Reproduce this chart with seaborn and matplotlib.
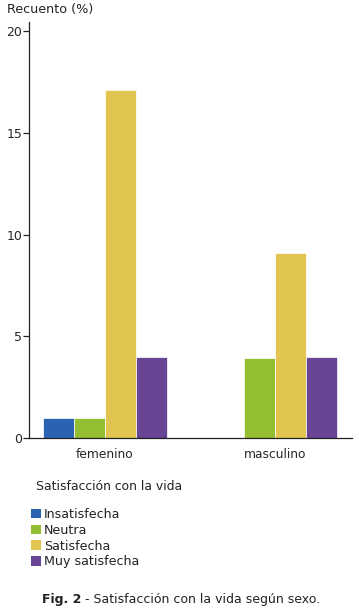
import pandas as pd
import matplotlib
matplotlib.use("Agg")
from matplotlib import pyplot as plt
import seaborn as sns

# Data
sexo = ["femenino", "masculino"]
satisfaccion = ["Insatisfecha", "Neutra", "Satisfecha", "Muy satisfecha"]
femenino = [1.0, 1.0, 17.1, 4.0]
masculino = [0.0, 3.95, 9.1, 4.0]
y_ticks = [0, 5, 10, 15, 20]
COLORS = ["#2a64b0", "#93be32", "#e2c550", "#674494"]

df = pd.DataFrame({
    "sexo": [s for s in sexo for _ in satisfaccion],
    "satisfaccion": satisfaccion * 2,
    "recuento": femenino + masculino,
})

sns.set_style("white")
plt.rcParams["font.family"] = ["DejaVu Sans"]
plt.rcParams["text.color"] = "#222222"

fig = plt.figure(figsize=(3.59, 6.08), dpi=100)
ax = fig.add_axes([0.0808, 0.2796, 0.8997, 0.6842])

sns.barplot(data=df, x="sexo", y="recuento", hue="satisfaccion", order=sexo,
            hue_order=satisfaccion, palette=COLORS, width=0.73, saturation=1,
            edgecolor="white", linewidth=0.5, legend=False, ax=ax)

ax.set_xlim(-0.447, 1.453)
ax.set_ylim(0, 20.45)
ax.set_yticks(y_ticks)
ax.set_xlabel("")
ax.set_ylabel("")
sns.despine(ax=ax)
for s in ["left", "bottom"]:
    ax.spines[s].set_color("#222222")
    ax.spines[s].set_linewidth(0.9)
ax.tick_params(axis="y", length=4, width=0.9, color="#222222", labelsize=9, pad=1, direction="out", left=True)
ax.tick_params(axis="x", length=0, labelsize=8.8, pad=7)

fig.text(7 / 359, 1 - 10 / 608, "Recuento (%)", fontsize=9.2, va="center", ha="left")

# Legend
fig.text(36 / 359, 1 - 486 / 608, "Satisfacción con la vida", fontsize=8.9, va="center", ha="left")
handles = [plt.Rectangle((0, 0), 1, 1, facecolor=c, edgecolor="none") for c in COLORS]
fig.legend(handles, satisfaccion, loc="upper left", bbox_to_anchor=(31 / 359, 1 - 508 / 608),
           frameon=False, fontsize=9.1, handlelength=0.8, handleheight=0.8,
           handletextpad=0.2, labelspacing=0.22, borderaxespad=0, borderpad=0)

# Caption: bold "Fig. 2" followed by regular text
cap = fig.text(42 / 359, 1 - 599 / 608, "Fig. 2", fontsize=9, fontweight="bold",
               ha="left", va="center")
ax.annotate(" - Satisfacción con la vida según sexo.", xy=(1, 0.5), xycoords=cap,
            fontsize=9, ha="left", va="center", annotation_clip=False)

fig.savefig("out.png", dpi=100)
